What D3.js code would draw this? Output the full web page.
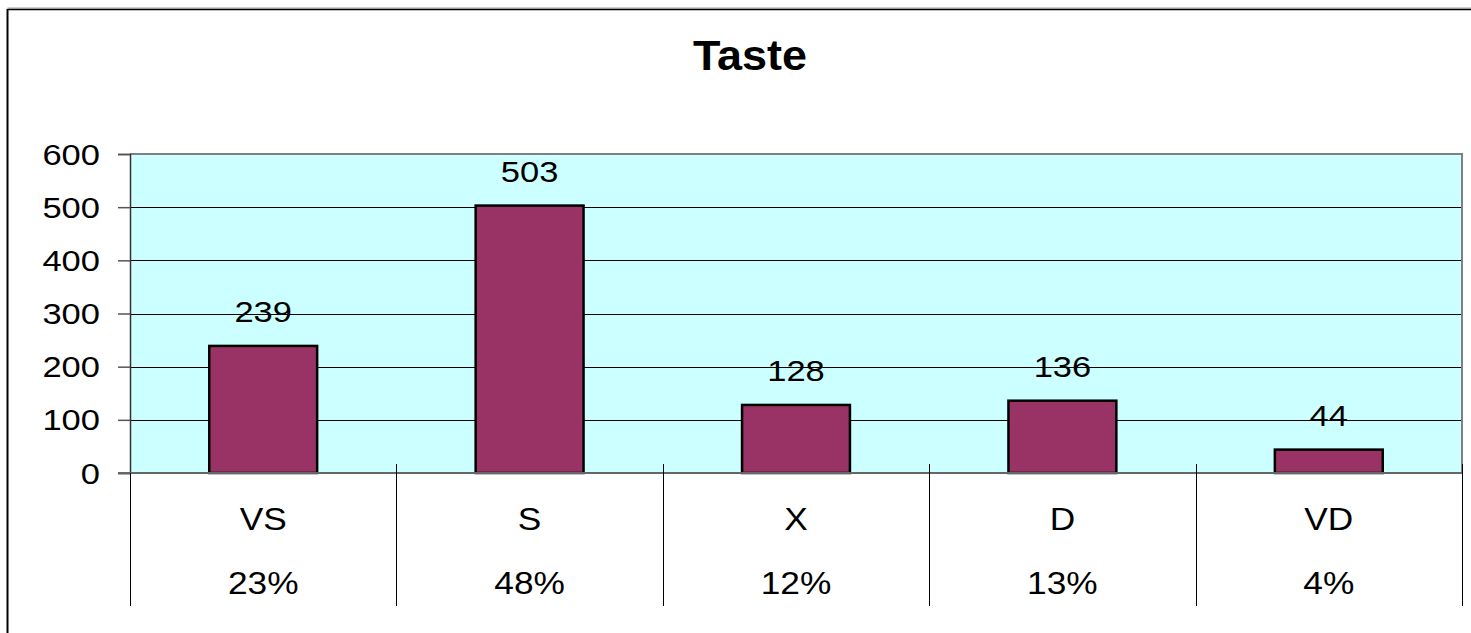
<!DOCTYPE html>
<html><head><meta charset="utf-8">
<script src="https://cdn.jsdelivr.net/npm/d3@7"></script>
<style>body{margin:0;background:#fff}svg{display:block}text{font-family:Arial,"Liberation Sans",sans-serif;fill:#000}</style>
</head><body>
<script>
const categories = ["VS", "S", "X", "D", "VD"];
const values = [239, 503, 128, 136, 44];
const percents = ["23%", "48%", "12%", "13%", "4%"];
const yTicks = [0, 100, 200, 300, 400, 500, 600];
const title = "Taste";

const W = 1471, H = 633;
const L = 130, R = 1462, T = 154, B = 473;
const svg = d3.select("body").append("svg").attr("width", W).attr("height", H);

// outer border
svg.append("line").attr("x1",7.5).attr("x2",W).attr("y1",8).attr("y2",8).attr("stroke","#999").attr("stroke-width",1);
svg.append("line").attr("x1",7.5).attr("x2",W).attr("y1",9.5).attr("y2",9.5).attr("stroke","#000").attr("stroke-width",1.5);
svg.append("line").attr("x1",7.5).attr("x2",7.5).attr("y1",9).attr("y2",H).attr("stroke","#000").attr("stroke-width",2);

const x = d3.scaleBand().domain(categories).range([L, R]).paddingInner(0).paddingOuter(0);
const y = d3.scaleLinear().domain([0, 600]).range([B, T]);
const barW = x.bandwidth() * 0.405;

svg.append("rect").attr("x", L).attr("y", T).attr("width", R - L).attr("height", B - T).attr("fill", "#CCFFFF");

// gridlines
svg.append("g").selectAll("line").data(yTicks.filter(d => d > 0 && d < 600)).join("line")
  .attr("x1", L).attr("x2", R).attr("y1", d => Math.round(y(d)) + 0.5).attr("y2", d => Math.round(y(d)) + 0.5)
  .attr("stroke", "#000").attr("stroke-width", 1);

// plot border top/right
svg.append("path").attr("d", `M${L},${T} H${R} V${B}`).attr("fill","none").attr("stroke","#808080").attr("stroke-width",2);

// bars
svg.append("g").selectAll("rect").data(values).join("rect")
  .attr("x", (d, i) => x(categories[i]) + x.bandwidth() / 2 - barW / 2)
  .attr("y", d => y(d)).attr("width", barW).attr("height", d => B - y(d))
  .attr("fill", "#993366").attr("stroke", "#000").attr("stroke-width", 2.5);

// y axis
const yAxis = d3.axisLeft(y).tickValues(yTicks).tickSize(12).tickFormat(d3.format("d"));
const ga = svg.append("g").attr("transform", `translate(${L},0)`).call(yAxis);
ga.select(".domain").attr("stroke", "#333").attr("stroke-width", 1.5);
ga.selectAll(".tick line").attr("stroke", "#555").attr("stroke-width", 1.5);
ga.selectAll(".tick text").remove();
ga.selectAll(".tick").append("text")
  .attr("transform", "translate(-30,10) scale(1.17,1)")
  .attr("text-anchor", "end").attr("font-size", 29.5).text(d => d);

// x axis line
svg.append("line").attr("x1", L - 12).attr("x2", R).attr("y1", B).attr("y2", B).attr("stroke", "#666").attr("stroke-width", 2);

// category dividers
const bounds = categories.map(c => x(c)).concat([R]);
svg.append("g").selectAll("line").data(bounds).join("line")
  .attr("x1", d => Math.round(d) + 0.5).attr("x2", d => Math.round(d) + 0.5)
  .attr("y1", (d, i) => i === 0 ? B : 464).attr("y2", 606)
  .attr("stroke", "#000").attr("stroke-width", 1);

// value labels
svg.append("g").selectAll("text").data(values).join("text")
  .attr("transform", (d, i) => `translate(${x(categories[i]) + x.bandwidth() / 2},${y(d) - 24}) scale(1.15,1)`)
  .attr("text-anchor", "middle").attr("font-size", 30).text(d => d);

// category labels
svg.append("g").selectAll("text").data(categories).join("text")
  .attr("transform", d => `translate(${x(d) + x.bandwidth() / 2},530) scale(1.12,1)`)
  .attr("text-anchor", "middle").attr("font-size", 31.5).text(d => d);
svg.append("g").selectAll("text").data(percents).join("text")
  .attr("transform", (d, i) => `translate(${x(categories[i]) + x.bandwidth() / 2},594) scale(1.12,1)`)
  .attr("text-anchor", "middle").attr("font-size", 31.5).text(d => d);

// title
svg.append("text").attr("transform", "translate(750,70) scale(1.07,1)")
  .attr("text-anchor", "middle").attr("font-size", 42).attr("font-weight", "bold").text(title);
</script>
</body></html>
